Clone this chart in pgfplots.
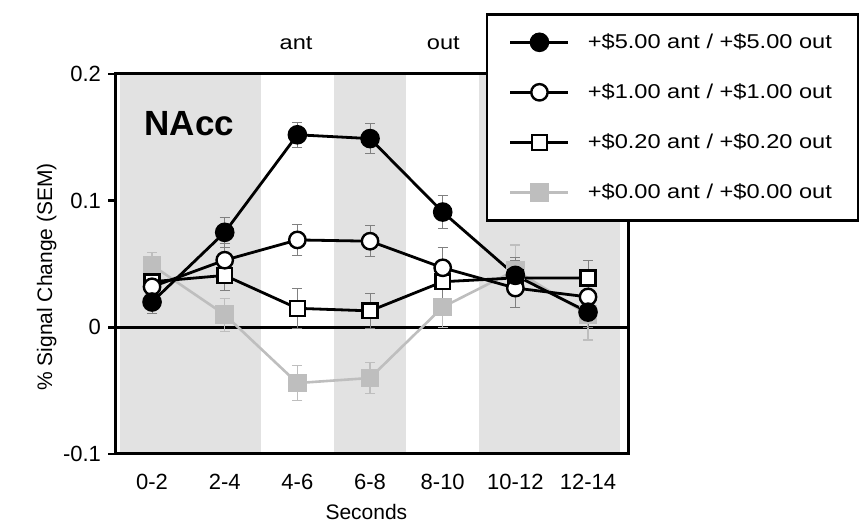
\documentclass[border=0pt]{standalone}
\usepackage{fontspec}
\setmainfont{Liberation Sans}
\newfontfamily\widefont{Liberation Sans}[FakeStretch=1.18]
\usepackage{pgfplots}
\pgfplotsset{compat=1.18}
\usepackage{pgfplotstable}

\pgfplotstableread{
x y e
0 0.020 0.009
1 0.075 0.012
2 0.152 0.010
3 0.149 0.012
4 0.091 0.013
5 0.041 0.014
6 0.012 0.012
}\five
\pgfplotstableread{
x y e
0 0.032 0.011
1 0.053 0.013
2 0.069 0.012
3 0.068 0.012
4 0.047 0.016
5 0.031 0.015
6 0.024 0.014
}\one
\pgfplotstableread{
x y e
0 0.036 0.010
1 0.041 0.012
2 0.015 0.016
3 0.013 0.014
4 0.036 0.014
5 0.039 0.014
6 0.039 0.014
}\twenty
\pgfplotstableread{
x y e
0 0.049 0.010
1 0.010 0.013
2 -0.044 0.014
3 -0.040 0.012
4 0.016 0.016
5 0.045 0.020
6 0.010 0.020
}\zero

\definecolor{bggray}{RGB}{226,226,226}
\definecolor{sergray}{RGB}{190,190,190}

\begin{document}
\begin{tikzpicture}
\path[use as bounding box] (0,0) rectangle (431pt,261.5pt);
\begin{axis}[
  at={(57.5pt,34.5pt)}, anchor=south west,
  scale only axis, width=256.5pt, height=190pt,
  xmin=-0.51, xmax=6.55, ymin=-0.1, ymax=0.2,
  clip=false,
  axis on top,
  axis line style={line width=1.5pt},
  xtick={0,1,2,3,4,5,6},
  xticklabels={0-2,2-4,4-6,6-8,8-10,10-12,12-14},
  x tick style={draw=none},
  xticklabel style={font=\fontsize{11}{12}\selectfont, yshift=-3pt},
  ytick={-0.1,0,0.1,0.2},
  yticklabels={-0.1,0,0.1,0.2},
  ytick pos=left,
  y tick style={line width=1.3pt, black},
  tick align=outside, major tick length=3.5pt,
  yticklabel style={font=\fontsize{11}{12}\selectfont},
  xlabel={Seconds},
  xlabel style={font=\fontsize{10.5}{12}\selectfont, at={(axis description cs:0.49,-0.153)}, anchor=center},
  ylabel={\% Signal Change (SEM)},
  ylabel style={font=\fontsize{10.5}{12}\selectfont, at={(axis description cs:-0.133,0.466)}, anchor=center},
  reverse legend,
  legend style={at={(axis description cs:0.7227,1.1605)}, anchor=north west,
    draw=black, line width=1.3pt, fill=white,
    font=\widefont\fontsize{10}{12}\selectfont,
    inner xsep=11pt, inner ysep=7pt, row sep=11pt, column sep=7pt,
    nodes={inner sep=2pt, text height=8pt, text depth=2pt},
    cells={anchor=west}},
  legend image code/.code={\draw[mark repeat=2,mark phase=2] plot coordinates {(0pt,0pt) (14.5pt,0pt) (29pt,0pt)};},
]
\fill[bggray] (axis cs:-0.44,-0.1) rectangle (axis cs:1.5,0.2);
\fill[bggray] (axis cs:2.5,-0.1) rectangle (axis cs:3.5,0.2);
\fill[bggray] (axis cs:4.5,-0.1) rectangle (axis cs:6.44,0.2);
\addplot[black, line width=1.3pt, forget plot] coordinates {(-0.51,0) (6.55,0)};

\addplot[sergray, line width=1.3pt, mark=square*, mark size=4pt, mark options={fill=sergray, draw=sergray},
  error bars/.cd, y dir=both, y explicit,
  error bar style={sergray, line width=0.6pt}, error mark options={rotate=90, mark size=2.5pt, sergray, line width=0.6pt}]
  table[x=x, y=y, y error=e] {\zero};
\addlegendentry{+\$0.00 ant / +\$0.00 out}

\addplot[black, line width=1.4pt, mark=square*, mark size=3.7pt, mark options={fill=white, draw=black, line width=1.2pt},
  error bars/.cd, y dir=both, y explicit,
  error bar style={gray, line width=0.5pt}, error mark options={rotate=90, mark size=2.5pt, gray, line width=0.5pt}]
  table[x=x, y=y, y error=e] {\twenty};
\addlegendentry{+\$0.20 ant / +\$0.20 out}

\addplot[black, line width=1.4pt, mark=*, mark size=4.1pt, mark options={fill=white, draw=black, line width=1.2pt},
  error bars/.cd, y dir=both, y explicit,
  error bar style={gray, line width=0.5pt}, error mark options={rotate=90, mark size=2.5pt, gray, line width=0.5pt}]
  table[x=x, y=y, y error=e] {\one};
\addlegendentry{+\$1.00 ant / +\$1.00 out}

\addplot[black, line width=1.4pt, mark=*, mark size=4.2pt, mark options={fill=black, draw=black},
  error bars/.cd, y dir=both, y explicit,
  error bar style={gray, line width=0.5pt}, error mark options={rotate=90, mark size=2.5pt, gray, line width=0.5pt}]
  table[x=x, y=y, y error=e] {\five};
\addlegendentry{+\$5.00 ant / +\$5.00 out}

\node[font=\bfseries\fontsize{17.5}{20}\selectfont, anchor=west] at (axis cs:-0.2,0.161) {NAcc};
\node[font=\widefont\fontsize{10}{12}\selectfont] at (axis description cs:0.353,1.081) {ant};
\node[font=\widefont\fontsize{10}{12}\selectfont] at (axis description cs:0.64,1.081) {out};
\end{axis}
\end{tikzpicture}
\end{document}
